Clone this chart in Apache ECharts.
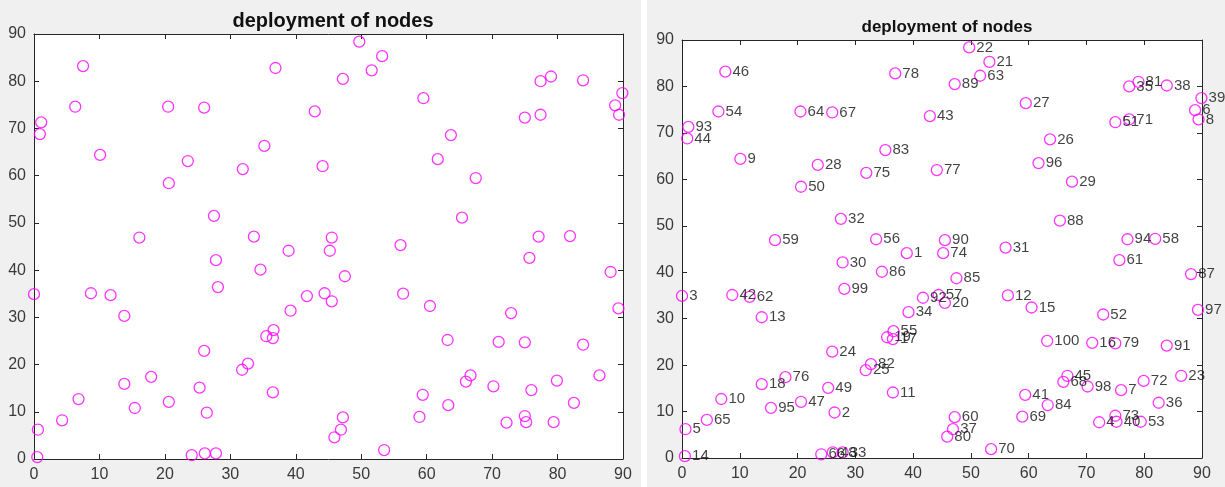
<!DOCTYPE html>
<html>
<head>
<meta charset="utf-8">
<title>deployment of nodes</title>
<script src="https://cdn.jsdelivr.net/npm/echarts@6/dist/echarts.min.js"></script>
<style>
  html, body { margin: 0; padding: 0; }
  body {
    width: 1225px; height: 487px;
    background: linear-gradient(to right, #f0f0f0 0, #f0f0f0 641px, #ffffff 641px, #ffffff 647px, #f0f0f0 647px);
  }
  #chart { width: 1225px; height: 487px; }
</style>
</head>
<body>
<div id="chart"></div>
<script>
// node coordinates, node i+1 is at (nodeX[i], nodeY[i])
const nodeX = [
  38.9, 26.4, 0.0, 72.2, 0.6, 88.8, 76.0, 89.4, 10.1, 6.8,
  36.5, 56.4, 13.8, 0.5, 60.5, 71.0, 36.5, 13.8, 35.5, 45.5,
  53.2, 49.7, 86.4, 26.0, 31.8, 63.7, 59.5, 23.5, 67.5, 27.8,
  56.0, 27.5, 27.8, 39.2, 77.4, 82.5, 46.9, 83.9, 89.9, 75.2,
  59.4, 8.7, 42.9, 0.9, 66.7, 7.5, 20.6, 26.1, 25.3, 20.6,
  75.0, 72.9, 79.4, 6.3, 36.6, 33.6, 44.4, 81.9, 16.1, 47.2,
  75.7, 11.7, 51.6, 20.5, 4.3, 24.1, 26.0, 66.0, 58.9, 53.5,
  77.4, 79.9, 75.0, 45.2, 31.9, 17.9, 44.1, 36.9, 75.0, 45.9,
  79.0, 32.7, 35.2, 63.3, 47.5, 34.6, 88.1, 65.4, 47.2, 45.5,
  83.9, 41.7, 1.1, 77.1, 15.4, 61.7, 89.3, 70.2, 28.1, 63.2
]
const nodeY = [
  44.1, 9.8, 34.9, 7.7, 6.2, 74.9, 14.6, 72.9, 64.4, 12.7,
  14.1, 35.0, 30.3, 0.4, 32.4, 24.8, 25.6, 15.9, 26.0, 33.4,
  85.3, 88.4, 17.7, 22.9, 18.9, 68.6, 76.4, 63.1, 59.5, 42.1,
  45.3, 51.5, 1.2, 31.4, 80.0, 11.9, 6.2, 80.2, 77.5, 7.8,
  13.6, 35.1, 73.6, 68.8, 17.7, 83.2, 12.1, 1.2, 15.1, 58.4,
  72.3, 30.9, 7.8, 74.6, 27.3, 47.1, 35.1, 47.2, 46.9, 8.8,
  42.6, 34.7, 82.3, 74.6, 8.2, 0.8, 74.4, 16.4, 8.9, 1.9,
  72.9, 16.6, 9.1, 44.1, 61.4, 17.4, 62.0, 82.8, 24.7, 4.6,
  81.0, 20.2, 66.3, 11.4, 38.7, 40.1, 39.6, 51.1, 80.5, 46.9,
  24.2, 34.5, 71.3, 47.1, 10.8, 63.5, 31.9, 15.4, 36.4, 25.2
]
const axisMin = 0
const axisMax = 90
const axisStep = 10
const chartTitle = 'deployment of nodes'

const points = nodeX.map(function (x, i) { return [x, nodeY[i], i + 1] })

const font = 'Liberation Sans, Arial, sans-serif'
const axisColor = '#262626'

function valueAxis(gridIndex, position, showLabels) {
  return {
    type: 'value', gridIndex: gridIndex, position: position,
    min: axisMin, max: axisMax, interval: axisStep,
    axisLine: { show: true, onZero: false, lineStyle: { color: axisColor, width: 1 } },
    axisTick: { show: true, inside: true, length: 5, lineStyle: { color: axisColor } },
    axisLabel: { show: showLabels, color: '#3a3a3a', fontSize: 16, fontFamily: font, margin: 8 },
    splitLine: { show: false }
  }
}

const marker = {
  type: 'scatter', symbol: 'circle', symbolSize: 11,
  itemStyle: { color: 'rgba(0,0,0,0)', borderColor: '#ff00ff', borderWidth: 1.3 },
  emphasis: { disabled: true }
}

const chart = echarts.init(document.getElementById('chart'))
chart.setOption({
  animation: false,
  title: [
    { text: chartTitle, left: 328, top: 6, textAlign: 'center',
      textStyle: { fontSize: 20, fontWeight: 'bold', color: '#111111', fontFamily: font } },
    { text: chartTitle, left: 942, top: 14, textAlign: 'center',
      textStyle: { fontSize: 17, fontWeight: 'bold', color: '#111111', fontFamily: font } }
  ],
  grid: [
    { left: 34, top: 34, width: 589, height: 425, show: true, backgroundColor: '#ffffff', borderWidth: 0 },
    { left: 682, top: 40, width: 520, height: 418, show: true, backgroundColor: '#ffffff', borderWidth: 0 }
  ],
  xAxis: [
    valueAxis(0, 'bottom', true), valueAxis(0, 'top', false),
    valueAxis(1, 'bottom', true), valueAxis(1, 'top', false)
  ],
  yAxis: [
    valueAxis(0, 'left', true), valueAxis(0, 'right', false),
    valueAxis(1, 'left', true), valueAxis(1, 'right', false)
  ],
  series: [
    Object.assign({}, marker, { xAxisIndex: 0, yAxisIndex: 0, data: points }),
    Object.assign({}, marker, {
      xAxisIndex: 2, yAxisIndex: 2, data: points,
      label: {
        show: true, position: 'right', distance: 1, offset: [0, 2],
        color: '#111111', fontSize: 15, fontFamily: font,
        formatter: function (p) { return String(p.value[2]) }
      },
      labelLayout: { hideOverlap: false }
    })
  ]
})
</script>
</body>
</html>
